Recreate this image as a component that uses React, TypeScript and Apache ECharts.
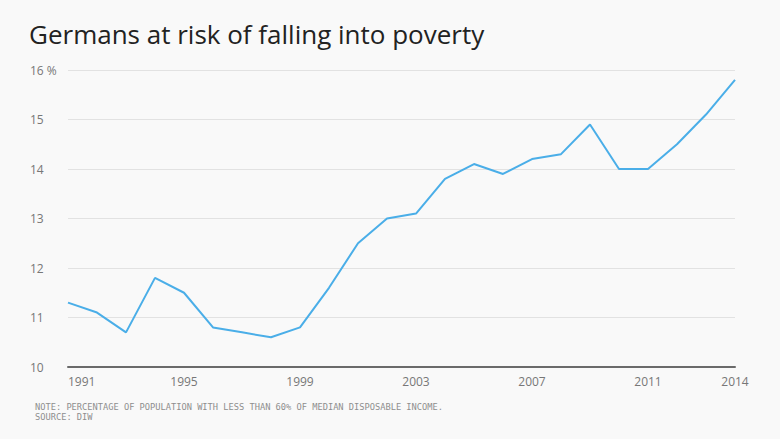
import React, { useEffect, useRef } from "react";
import * as echarts from "echarts";

const years = [
  "1991", "1992", "1993", "1994", "1995", "1996", "1997", "1998", "1999", "2000",
  "2001", "2002", "2003", "2004", "2005", "2006", "2007", "2008", "2009", "2010",
  "2011", "2012", "2013", "2014",
];
const riskShare = [
  11.3, 11.1, 10.7, 11.8, 11.5, 10.8, 10.7, 10.6, 10.8, 11.6,
  12.5, 13.0, 13.1, 13.8, 14.1, 13.9, 14.2, 14.3, 14.9, 14.0,
  14.0, 14.5, 15.1, 15.8,
];
const shownYears = ["1991", "1995", "1999", "2003", "2007", "2011", "2014"];
const titleText = "Germans at risk of falling into poverty";
const noteText = "NOTE: PERCENTAGE OF POPULATION WITH LESS THAN 60% OF MEDIAN DISPOSABLE INCOME.";
const sourceText = "SOURCE: DIW";

export default function App() {
  const ref = useRef<HTMLDivElement>(null);
  useEffect(() => {
    document.body.style.margin = "0";
    const chart = echarts.init(ref.current!, null, { renderer: "svg" });
    chart.setOption({
      animation: false,
      backgroundColor: "#f9f9f9",
      title: {
        text: titleText,
        left: 24,
        top: 16,
        textStyle: {
          fontFamily: "Open Sans",
          fontSize: 26,
          fontWeight: "normal",
          color: "#222",
        },
      },
      graphic: [
        {
          type: "text",
          left: 35,
          top: 402,
          style: {
            text: noteText + "\n" + sourceText,
            font: "8.7px 'DejaVu Sans Mono'",
            fill: "#8e8e8e",
            lineHeight: 10,
          },
        },
      ],
      grid: { left: 68, right: 45, top: 70, bottom: 72 },
      xAxis: {
        type: "category",
        data: years,
        boundaryGap: false,
        axisLine: { lineStyle: { color: "#6a6a6a", width: 2 } },
        axisTick: { show: false },
        axisLabel: {
          interval: (_i: number, v: string) => shownYears.includes(v),
          color: "#777",
          fontFamily: "Open Sans",
          fontSize: 12,
          margin: 8,
          alignMinLabel: "left",
        },
      },
      yAxis: {
        type: "value",
        min: 10,
        max: 16,
        interval: 1,
        axisLine: { show: false },
        axisTick: { show: false },
        splitLine: { lineStyle: { color: "#e2e2e2", width: 1 } },
        axisLabel: {
          formatter: (v: number) => (v === 16 ? "16 %" : String(v)),
          color: "#777",
          fontFamily: "Open Sans",
          fontSize: 12,
          align: "left",
          margin: 38,
        },
      },
      series: [
        {
          type: "line",
          data: riskShare,
          symbol: "none",
          lineStyle: { color: "#4aaee8", width: 2 },
        },
      ],
    });
    return () => chart.dispose();
  }, []);
  return <div ref={ref} style={{ width: 780, height: 439 }} />;
}
